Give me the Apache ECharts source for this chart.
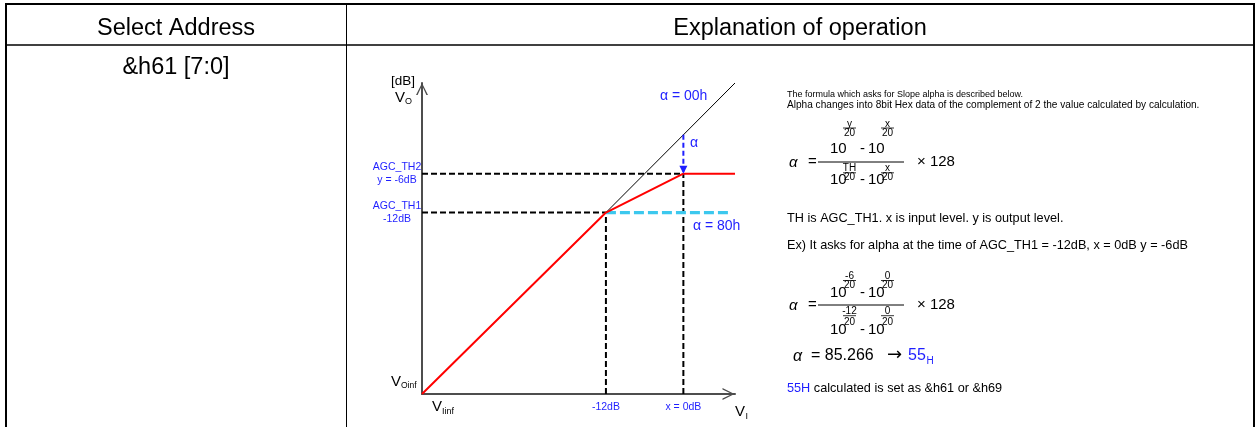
<!DOCTYPE html>
<html>
<head>
<meta charset="utf-8">
<script src="https://cdn.jsdelivr.net/npm/echarts@6/dist/echarts.min.js"></script>
<style>
  html, body { margin: 0; padding: 0; background: #fff; }
  #chart { width: 1258px; height: 427px; }
</style>
</head>
<body>
<div id="chart"></div>
<script>
// 传输曲线数据 (dB)
const xRange = [-40.5, 8]
const yRange = [-40, 8]
const curveIn = [-40.5, -12, 0, 8]
const curveOut = [-40, -12, -6, -6]
const unityIn = [-12, 8]
const unityOut = [-12, 8]
const alpha80In = [-12, 7.5]
const alpha80Out = [-12, -12]
const alphaArrowIn = [0, 0]
const alphaArrowOut = [0, -6]
const xTickValues = [-12, 0]
const xTickLabels = ['-12dB', 'x = 0dB']
const yTickValues = [-6, -12]
const yTickLabels = ['AGC_TH2\ny = -6dB', 'AGC_TH1\n-12dB']

const FONT = '"Liberation Sans", Arial, sans-serif'
const BLUE = '#1f1fff'
const CYAN = '#3cc8ee'
const AXIS = '#4d4d4d'
const chevron = 'path://M6,0 L12,12 L10.4,12 L6,2.6 L1.6,12 L0,12 Z'

const pairs = (xs, ys) => xs.map((x, i) => [x, ys[i]])

// 文本 / 线段 helpers
const txt = (x, y, s, size, color, align, style, family) => ({
  type: 'text',
  silent: true,
  style: {
    text: s, x: x, y: y,
    font: (style || '') + ' ' + size + 'px ' + (family || FONT),
    fill: color || '#000',
    align: align || 'left', textAlign: align || 'left',
    verticalAlign: 'middle', textVerticalAlign: 'middle'
  }
})
const seg = (x1, y1, x2, y2, w, c) => ({
  type: 'line',
  silent: true,
  shape: { x1: x1, y1: y1, x2: x2, y2: y2 },
  style: { stroke: c || '#000', lineWidth: w || 1 }
})

// 10^(a/20) 形式的小指数
const power = (x, y, top, expTop, expBar, expBot) => [
  txt(x, y, '10', 15),
  txt(x + 19.5, expTop, top, 10, '#000', 'center'),
  seg(x + 13, expBar, x + 26, expBar, 0.8),
  txt(x + 19.5, expBot, '20', 10, '#000', 'center')
]

const fraction = (yBar, num, den) => {
  const out = [
    txt(789, yBar + 1, 'α', 15, '#000', 'left', 'italic'),
    txt(808, yBar, '=', 15),
    seg(818, yBar, 904, yBar, 1),
    txt(917, yBar, '× 128', 15)
  ]
  ;[num, den].forEach((p) => {
    out.push(...power(830, p.y, p.a, p.t, p.b, p.d))
    out.push(txt(862.5, p.y, '-', 15, '#000', 'center'))
    out.push(...power(868, p.y, p.c, p.t, p.b, p.d))
  })
  return out
}

const graphic = [
  // 表格
  seg(5, 4, 1255, 4, 2),
  seg(6, 3, 6, 427, 2),
  seg(1254, 3, 1254, 427, 2),
  seg(6, 45, 1254, 45, 1.3),
  seg(346.5, 4, 346.5, 427, 1),
  txt(176, 29, 'Select Address', 23.5, '#000', 'center'),
  txt(800, 29, 'Explanation of operation', 23.5, '#000', 'center'),
  txt(176, 68, '&h61 [7:0]', 23.5, '#000', 'center'),

  // 坐标标注
  txt(415, 81, '[dB]', 13.5, '#000', 'right'),
  txt(395, 98, 'V', 15),
  txt(405, 102, 'O', 9),
  txt(391, 382, 'V', 15),
  txt(401, 386, 'Oinf', 8.5),
  txt(432, 407, 'V', 15),
  txt(442, 412, 'Iinf', 9),
  txt(735, 412, 'V', 15),
  txt(745.5, 417, 'I', 9),
  txt(660, 96, 'α = 00h', 14, BLUE),
  txt(690, 143, 'α', 14, BLUE),
  txt(693, 226, 'α = 80h', 14, BLUE),

  // 说明文字
  txt(787, 95, 'The formula which asks for Slope alpha is described below.', 9),
  txt(787, 105.5, 'Alpha changes into 8bit Hex data of the complement of 2 the value calculated by calculation.', 10.1),
  txt(787, 218, 'TH is AGC_TH1. x is input level. y is output level.', 12.7),
  txt(787, 245, 'Ex) It asks for alpha at the time of AGC_TH1 = -12dB, x = 0dB y = -6dB', 12.7),
  txt(793, 357, 'α', 16, '#000', 'left', 'italic'),
  txt(811, 356, '= 85.266', 16),
  txt(887, 355, '→', 18, '#000', 'left', '', '"DejaVu Sans", sans-serif'),
  txt(908, 356, '55', 16, BLUE),
  txt(926.5, 361, 'H', 10, BLUE),
  {
    type: 'text',
    silent: true,
    style: {
      text: '{b|55H}{k| calculated is set as &h61 or &h69}',
      x: 787, y: 388,
      font: '12.7px ' + FONT,
      verticalAlign: 'middle', textVerticalAlign: 'middle',
      rich: {
        b: { fill: BLUE, color: BLUE, font: '12.7px ' + FONT },
        k: { fill: '#000', color: '#000', font: '12.7px ' + FONT }
      }
    }
  }
]
  .concat(fraction(162,
    { y: 149, a: 'y', c: 'x', t: 124, b: 128, d: 133 },
    { y: 180, a: 'TH', c: 'x', t: 168.5, b: 172.8, d: 177.5 }))
  .concat(fraction(305,
    { y: 293, a: '-6', c: '0', t: 276, b: 280.5, d: 285.5 },
    { y: 330, a: '-12', c: '0', t: 311, b: 315.7, d: 322 }))

const dashed = (data, color, width, dash) => ({
  type: 'line',
  data: data,
  symbol: 'none',
  silent: true,
  lineStyle: { color: color, width: width, type: dash }
})

const option = {
  animation: false,
  grid: { left: 422, top: 83, width: 313, height: 311 },
  xAxis: {
    type: 'value',
    min: xRange[0],
    max: xRange[1],
    axisLine: {
      onZero: false,
      lineStyle: { color: AXIS, width: 2 },
      symbol: ['none', chevron],
      symbolSize: [12, 13],
      symbolOffset: [0, -6.5]
    },
    axisTick: { show: false },
    splitLine: { show: false },
    axisLabel: {
      customValues: xTickValues,
      formatter: (v) => xTickLabels[xTickValues.indexOf(v)],
      color: BLUE,
      fontSize: 10.5,
      fontFamily: FONT,
      margin: 8
    }
  },
  yAxis: {
    type: 'value',
    min: yRange[0],
    max: yRange[1],
    axisLine: {
      onZero: false,
      lineStyle: { color: AXIS, width: 2 },
      symbol: ['none', chevron],
      symbolSize: [12, 12],
      symbolOffset: [0, -6]
    },
    axisTick: { show: false },
    splitLine: { show: false },
    axisLabel: {
      customValues: yTickValues,
      formatter: (v) => yTickLabels[yTickValues.indexOf(v)],
      color: BLUE,
      fontSize: 10.5,
      fontFamily: FONT,
      lineHeight: 12.5,
      align: 'center',
      margin: 25
    }
  },
  series: [
    dashed([[xRange[0], -6], [0, -6]], '#000', 2, [6, 3]),
    dashed([[xRange[0], -12], [-12, -12]], '#000', 2, [6, 3]),
    dashed([[-12, yRange[0]], [-12, -12]], '#000', 2, [6, 3]),
    dashed([[0, yRange[0]], [0, -6]], '#000', 2, [6, 3]),
    dashed(pairs(alpha80In, alpha80Out), CYAN, 3.3, [10, 4]),
    {
      type: 'line',
      data: pairs(unityIn, unityOut),
      symbol: 'none',
      silent: true,
      lineStyle: { color: '#000', width: 1 }
    },
    {
      type: 'line',
      data: pairs(curveIn, curveOut),
      symbol: 'none',
      silent: true,
      lineStyle: { color: '#ff0000', width: 2 }
    },
    {
      type: 'line',
      silent: true,
      showSymbol: true,
      data: [
        { value: [alphaArrowIn[0], alphaArrowIn[1]], symbol: 'none' },
        { value: [alphaArrowOut[0], alphaArrowOut[1]], symbol: 'triangle', symbolSize: [8, 8], symbolRotate: 180, symbolOffset: [0, -4] }
      ],
      itemStyle: { color: BLUE },
      lineStyle: { color: BLUE, width: 2, type: [5, 3] }
    }
  ],
  graphic: graphic
}

const chart = echarts.init(document.getElementById('chart'))
chart.setOption(option)
</script>
</body>
</html>
